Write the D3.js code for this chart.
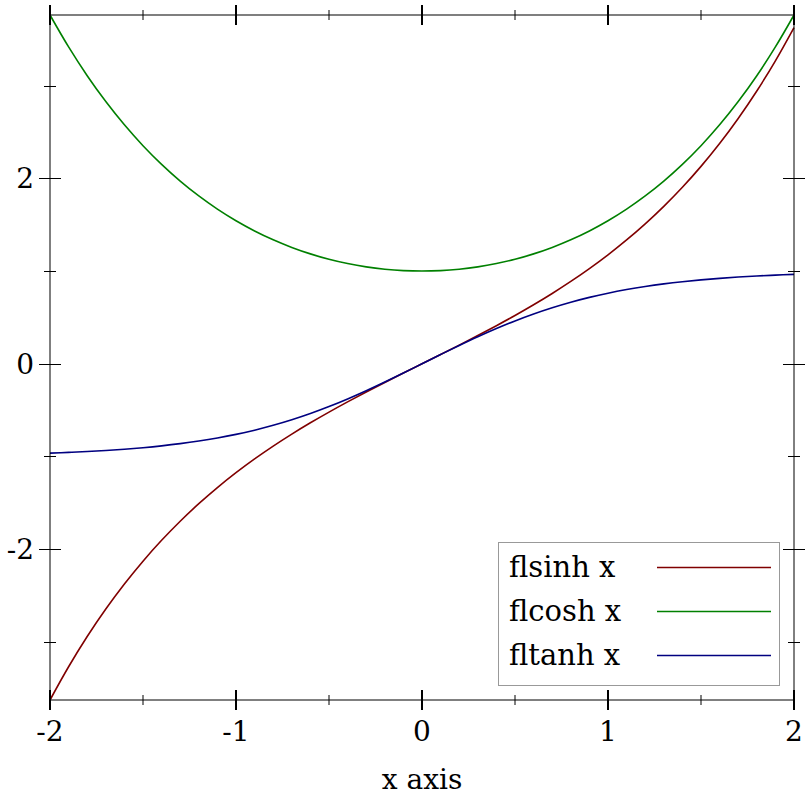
<!DOCTYPE html>
<html><head><meta charset="utf-8">
<script src="https://cdn.jsdelivr.net/npm/d3@7"></script>
<style>body{margin:0;background:#fff}svg{display:block}text{font-family:"DejaVu Serif",serif;fill:#000}</style>
</head><body>
<svg id="c" width="812" height="812"></svg>
<script>
const xs = [-2.0,-1.9,-1.8,-1.7,-1.6,-1.5,-1.4,-1.3,-1.2,-1.1,-1.0,-0.9,-0.8,-0.7,-0.6,-0.5,-0.4,-0.3,-0.2,-0.1,0.0,0.1,0.2,0.3,0.4,0.5,0.6,0.7,0.8,0.9,1.0,1.1,1.2,1.3,1.4,1.5,1.6,1.7,1.8,1.9,2.0];
const sinhVals = [-3.62686,-3.26816,-2.94217,-2.64563,-2.37557,-2.12928,-1.90430,-1.69838,-1.50946,-1.33565,-1.17520,-1.02652,-0.88811,-0.75858,-0.63665,-0.52110,-0.41075,-0.30452,-0.20134,-0.10017,0,0.10017,0.20134,0.30452,0.41075,0.52110,0.63665,0.75858,0.88811,1.02652,1.17520,1.33565,1.50946,1.69838,1.90430,2.12928,2.37557,2.64563,2.94217,3.26816,3.62686];
const coshVals = [3.76220,3.41773,3.10747,2.82832,2.57746,2.35241,2.15090,1.97091,1.81066,1.66852,1.54308,1.43309,1.33743,1.25517,1.18547,1.12763,1.08107,1.04534,1.02007,1.00500,1,1.00500,1.02007,1.04534,1.08107,1.12763,1.18547,1.25517,1.33743,1.43309,1.54308,1.66852,1.81066,1.97091,2.15090,2.35241,2.57746,2.82832,3.10747,3.41773,3.76220];
const tanhVals = [-0.96403,-0.95624,-0.94681,-0.93541,-0.92167,-0.90515,-0.88535,-0.86172,-0.83365,-0.80050,-0.76159,-0.71630,-0.66404,-0.60437,-0.53705,-0.46212,-0.37995,-0.29131,-0.19738,-0.09967,0,0.09967,0.19738,0.29131,0.37995,0.46212,0.53705,0.60437,0.66404,0.71630,0.76159,0.80050,0.83365,0.86172,0.88535,0.90515,0.92167,0.93541,0.94681,0.95624,0.96403];
const seriesNames = ["flsinh x","flcosh x","fltanh x"];
const seriesColors = ["#800000","#008000","#000080"];
const xMajor = [-2,-1,0,1,2];
const xMajorLabels = ["-2","-1","0","1","2"];
const xMinor = [-1.5,-0.5,0.5,1.5];
const yMajor = [-2,0,2];
const yMajorLabels = ["-2","0","2"];
const yMinor = [-3,-1,1,3];
const xLabel = "x axis";

const svg = d3.select("#c");
const L=50,R=794,T=15,B=700;
const FS=28, LFS=29;
const x = d3.scaleLinear().domain([-2,2]).range([L,R]);
const y = d3.scaleLinear().domain([-3.62686,3.76220]).range([B,T]);

// curves
const allSeries=[sinhVals,coshVals,tanhVals];
const line = d3.line().x((d,i)=>x(xs[i])).y(d=>y(d)).curve(d3.curveCatmullRom);
svg.append("clipPath").attr("id","pc").append("rect").attr("x",L-1).attr("y",T-1).attr("width",R-L+2).attr("height",B-T+2);
allSeries.forEach((s,k)=>{
  svg.append("path").attr("d",line(s)).attr("fill","none").attr("stroke",seriesColors[k]).attr("stroke-width",1.6).attr("clip-path","url(#pc)");
});

// frame
svg.append("rect").attr("x",L).attr("y",T).attr("width",R-L).attr("height",B-T).attr("fill","none").attr("stroke","#000").attr("stroke-width",1);

// ticks
const g=svg.append("g");
xMajor.forEach(v=>{
  [T,B].forEach(yy=>g.append("line").attr("x1",x(v)).attr("x2",x(v)).attr("y1",yy-10).attr("y2",yy+10).attr("stroke","#000").attr("stroke-width",2));
});
xMinor.forEach(v=>{
  [T,B].forEach(yy=>g.append("line").attr("x1",Math.round(x(v))).attr("x2",Math.round(x(v))).attr("y1",yy-5).attr("y2",yy+5).attr("stroke","#000").attr("stroke-width",1));
});
yMajor.forEach(v=>{
  const yy=Math.round(y(v))+0.5;
  [L,R].forEach(xx=>g.append("line").attr("x1",xx-11).attr("x2",xx+11).attr("y1",yy).attr("y2",yy).attr("stroke","#000").attr("stroke-width",1));
});
yMinor.forEach(v=>{
  const yy=Math.round(y(v))+0.5;
  [L,R].forEach(xx=>g.append("line").attr("x1",xx-6).attr("x2",xx+6).attr("y1",yy).attr("y2",yy).attr("stroke","#000").attr("stroke-width",1));
});

// tick labels
xMajor.forEach((v,i)=>{
  svg.append("text").attr("x",x(v)).attr("y",741).attr("text-anchor","middle").attr("font-size",FS).text(xMajorLabels[i]);
});
yMajor.forEach((v,i)=>{
  svg.append("text").attr("x",34).attr("y",y(v)+10).attr("text-anchor","end").attr("font-size",FS).text(yMajorLabels[i]);
});
svg.append("text").attr("x",(L+R)/2).attr("y",789).attr("text-anchor","middle").attr("font-size",FS).text(xLabel);

// legend
svg.append("rect").attr("x",498.5).attr("y",542.5).attr("width",281).attr("height",143).attr("fill","#fff").attr("stroke","#999").attr("stroke-width",1);
seriesNames.forEach((n,k)=>{
  const by=577+44*k;
  svg.append("text").attr("x",509).attr("y",by).attr("font-size",LFS).text(n);
  svg.append("line").attr("x1",657).attr("x2",771).attr("y1",by-9.5).attr("y2",by-9.5).attr("stroke",seriesColors[k]).attr("stroke-width",1.6);
});
</script>
</body></html>
